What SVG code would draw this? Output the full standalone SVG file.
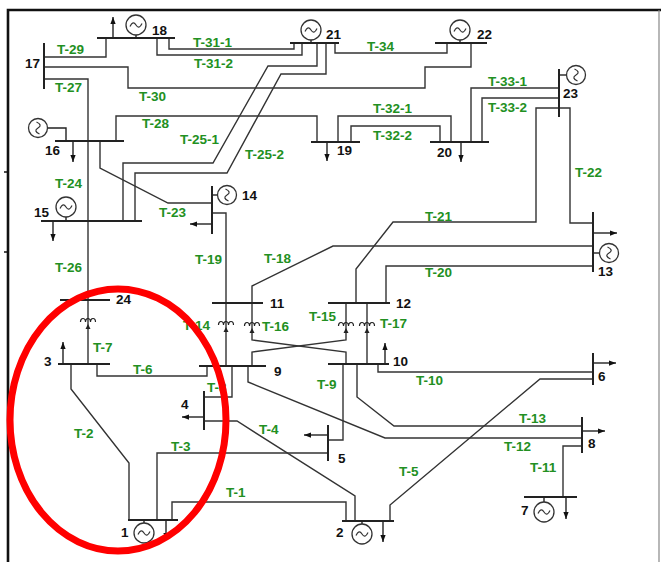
<svg xmlns="http://www.w3.org/2000/svg" width="661" height="562" viewBox="0 0 661 562">
<style>
.ln{fill:none;stroke:#333;stroke-width:1.4;stroke-linejoin:miter}
.bus{fill:none;stroke:#222;stroke-width:2}
.ld{fill:none;stroke:#222;stroke-width:1.4}
.t{font-family:"Liberation Sans",Arial,sans-serif;font-weight:bold;font-size:13.5px;fill:#229022}
.b{font-family:"Liberation Sans",Arial,sans-serif;font-weight:bold;font-size:13.5px;fill:#111}
.gc{fill:#fff;stroke:#333;stroke-width:1.3}
.gw{fill:none;stroke:#333;stroke-width:1.2}
.xc{fill:none;stroke:#222;stroke-width:1.2}
</style>
<defs>
<marker id="ah" viewBox="0 0 8 6" refX="8" refY="3" markerWidth="7" markerHeight="5.5" markerUnits="userSpaceOnUse" orient="auto">
<path d="M0,0 L8,3 L0,6 Z" fill="#111"/>
</marker>
<g id="gen"><circle r="10" class="gc"/><path class="gw" d="M-6,1.5 Q-3,-5 0,0 T6,-1.5"/></g>
<g id="genv"><circle r="9.5" class="gc"/><path class="gw" d="M-1.5,-6 Q5,-3 0,0 T1.5,6"/></g>
<g id="xf"><path class="xc" d="M-7.5,2 a2.5,3.5 0 0 1 5,0 a2.5,3.5 0 0 1 5,0 a2.5,3.5 0 0 1 5,0"/><path d="M0,4 L2.5,9 L-2.5,9 Z" fill="#222"/></g>
</defs>
<rect width="661" height="562" fill="#fff"/>
<g id="frame">
<path d="M8,562 V10 H661" fill="none" stroke="#111" stroke-width="2.6"/>
<path d="M659,10 V562" fill="none" stroke="#888" stroke-width="1.2"/>
<path d="M4,172 H8 M4,252 H8" stroke="#111" stroke-width="1.5"/>
</g>
<g id="connectors">
<path class="ln" d="M106,38 V57 H44"/>
<path class="ln" d="M169,38 V49 H294 V43"/>
<path class="ln" d="M157,38 V55 H302 V43"/>
<path class="ln" d="M44,67 H128 V88 H425 V67 H471 V43"/>
<path class="ln" d="M44,79 H88 V364"/>
<path class="ln" d="M116,141 V116 H317 V142"/>
<path class="ln" d="M338,142 V116 H451 V142"/>
<path class="ln" d="M351,142 V126 H440 V142"/>
<path class="ln" d="M471,142 V88 H559"/>
<path class="ln" d="M482,142 V98 H559"/>
<path class="ln" d="M335,43 V53 H447 V43"/>
<path class="ln" d="M317,43 V66 H268 L213,163 H123 V221"/>
<path class="ln" d="M326,43 V74 H281 L227,173 H135 V221"/>
<path class="ln" d="M100,141 V168 L168,203 H212"/>
<path class="ln" d="M212,213 H226 V366"/>
<path class="ln" d="M593,246 H333 L252,286 V303"/>
<path class="ln" d="M252,303 V340 L346,352 V364"/>
<path class="ln" d="M346,303 V340 L252,352 V366"/>
<path class="ln" d="M559,108 H536 V222 H393 L356,269 V303"/>
<path class="ln" d="M559,108 H570 V223 H593"/>
<path class="ln" d="M593,266 H386 V303"/>
<path class="ln" d="M367,303 V364"/>
<path class="ln" d="M343,364 V440 H328"/>
<path class="ln" d="M378,364 V372 H593"/>
<path class="ln" d="M357,364 V397 L394,426 H582"/>
<path class="ln" d="M248,366 V382 L385,438 H582"/>
<path class="ln" d="M582,446 H563 V497"/>
<path class="ln" d="M97,364 V376 H207 V366"/>
<path class="ln" d="M232,366 V397 H204"/>
<path class="ln" d="M204,421 H237 L355,496 V521"/>
<path class="ln" d="M157,520 V453 H328"/>
<path class="ln" d="M71,364 V389 L129,463 V520"/>
<path class="ln" d="M172,520 V502 H346 V521"/>
<path class="ln" d="M390,521 V505 L540,379 H593"/>
<use href="#xf" x="88" y="320"/>
<use href="#xf" x="226" y="323"/>
<use href="#xf" x="252" y="324"/>
<use href="#xf" x="346" y="324"/>
<use href="#xf" x="367" y="324"/>
<g id="line-labels">
<text class="t" x="57" y="54">T-29</text>
<text class="t" x="55" y="92">T-27</text>
<text class="t" x="139" y="101">T-30</text>
<text class="t" x="193" y="47">T-31-1</text>
<text class="t" x="194" y="68">T-31-2</text>
<text class="t" x="367" y="51">T-34</text>
<text class="t" x="488" y="86">T-33-1</text>
<text class="t" x="488" y="112">T-33-2</text>
<text class="t" x="373" y="113">T-32-1</text>
<text class="t" x="373" y="140">T-32-2</text>
<text class="t" x="142" y="128">T-28</text>
<text class="t" x="180" y="144">T-25-1</text>
<text class="t" x="245" y="159">T-25-2</text>
<text class="t" x="575" y="177">T-22</text>
<text class="t" x="55" y="188">T-24</text>
<text class="t" x="159" y="217">T-23</text>
<text class="t" x="425" y="221">T-21</text>
<text class="t" x="195" y="264">T-19</text>
<text class="t" x="264" y="263">T-18</text>
<text class="t" x="55" y="272">T-26</text>
<text class="t" x="425" y="277">T-20</text>
<text class="t" x="309" y="321">T-15</text>
<text class="t" x="183" y="330">T-14</text>
<text class="t" x="262" y="331">T-16</text>
<text class="t" x="380" y="328">T-17</text>
<text class="t" x="93" y="352">T-7</text>
<text class="t" x="133" y="374">T-6</text>
<text class="t" x="207" y="392">T-8</text>
<text class="t" x="317" y="389">T-9</text>
<text class="t" x="416" y="385">T-10</text>
<text class="t" x="519" y="423">T-13</text>
<text class="t" x="504" y="451">T-12</text>
<text class="t" x="259" y="434">T-4</text>
<text class="t" x="74" y="438">T-2</text>
<text class="t" x="171" y="451">T-3</text>
<text class="t" x="530" y="472">T-11</text>
<text class="t" x="399" y="476">T-5</text>
<text class="t" x="226" y="497">T-1</text>
</g>
</g>
<g id="bus18"><path class="bus" d="M97,38 H175"/><path class="ld" d="M113,38 V17" marker-end="url(#ah)"/><path class="ld" d="M136,35 V38"/><use href="#gen" x="136" y="25"/><text class="b" x="152" y="35">18</text></g>
<g id="bus17"><path class="bus" d="M44,43 V89"/><text class="b" x="25" y="68">17</text></g>
<g id="bus21"><path class="bus" d="M290,43 H339"/><path class="ld" d="M311,40 V43"/><use href="#gen" x="311" y="30"/><text class="b" x="326" y="39">21</text></g>
<g id="bus22"><path class="bus" d="M435,43 H487"/><path class="ld" d="M460,40 V43"/><use href="#gen" x="460" y="30"/><text class="b" x="477" y="39">22</text></g>
<g id="bus16"><path class="bus" d="M55,141 H124"/><path class="ld" d="M48,128 H66 V141"/><use href="#genv" x="38" y="128"/><path class="ld" d="M73,141 V162" marker-end="url(#ah)"/><text class="b" x="45" y="155">16</text></g>
<g id="bus19"><path class="bus" d="M311,142 H360"/><path class="ld" d="M327,142 V161" marker-end="url(#ah)"/><text class="b" x="337" y="155">19</text></g>
<g id="bus20"><path class="bus" d="M430,142 H489"/><path class="ld" d="M461,142 V162" marker-end="url(#ah)"/><text class="b" x="437" y="157">20</text></g>
<g id="bus23"><path class="bus" d="M559,69 V117"/><path class="ld" d="M559,75 H567"/><use href="#genv" x="576" y="75"/><text class="b" x="563" y="98">23</text></g>
<g id="bus15"><path class="bus" d="M41,221 H142"/><path class="ld" d="M66,217 V221"/><use href="#gen" x="66" y="207"/><path class="ld" d="M53,221 V241" marker-end="url(#ah)"/><text class="b" x="34" y="217">15</text></g>
<g id="bus14"><path class="bus" d="M212,186 V234"/><path class="ld" d="M212,195 H218"/><use href="#genv" x="227" y="195"/><path class="ld" d="M212,224 H190" marker-end="url(#ah)"/><text class="b" x="242" y="200">14</text></g>
<g id="bus13"><path class="bus" d="M593,212 V272"/><path class="ld" d="M593,233 H617" marker-end="url(#ah)"/><path class="ld" d="M593,253 H600"/><use href="#genv" x="609" y="253"/><text class="b" x="598" y="276">13</text></g>
<g id="bus11"><path class="bus" d="M212,303 H263"/><text class="b" x="270" y="308">11</text></g>
<g id="bus12"><path class="bus" d="M328,303 H390"/><text class="b" x="396" y="308">12</text></g>
<g id="bus24"><path class="bus" d="M60,300 H110"/><text class="b" x="116" y="304">24</text></g>
<g id="bus3"><path class="bus" d="M58,364 H110"/><path class="ld" d="M63,364 V342" marker-end="url(#ah)"/><text class="b" x="44" y="366">3</text></g>
<g id="bus9"><path class="bus" d="M199,366 H266"/><text class="b" x="274" y="376">9</text></g>
<g id="bus10"><path class="bus" d="M328,364 H389"/><path class="ld" d="M385,364 V343" marker-end="url(#ah)"/><text class="b" x="393" y="366">10</text></g>
<g id="bus6"><path class="bus" d="M593,353 V385"/><path class="ld" d="M593,363 H616" marker-end="url(#ah)"/><text class="b" x="598" y="381">6</text></g>
<g id="bus4"><path class="bus" d="M204,391 V430"/><path class="ld" d="M204,417 H182" marker-end="url(#ah)"/><text class="b" x="181" y="409">4</text></g>
<g id="bus5"><path class="bus" d="M328,425 V461"/><path class="ld" d="M328,435 H304" marker-end="url(#ah)"/><text class="b" x="338" y="463">5</text></g>
<g id="bus8"><path class="bus" d="M582,417 V453"/><path class="ld" d="M582,431 H605" marker-end="url(#ah)"/><text class="b" x="588" y="448">8</text></g>
<g id="bus7"><path class="bus" d="M524,497 H577"/><path class="ld" d="M544,497 V502"/><use href="#gen" x="544" y="512"/><path class="ld" d="M566,497 V519" marker-end="url(#ah)"/><text class="b" x="521" y="515">7</text></g>
<g id="bus1"><path class="bus" d="M128,520 H178"/><path class="ld" d="M144,520 V523"/><use href="#gen" x="144" y="533"/><path class="ld" d="M166,520 V540" marker-end="url(#ah)"/><text class="b" x="121" y="537">1</text></g>
<g id="bus2"><path class="bus" d="M342,521 H394"/><path class="ld" d="M362,521 V524"/><use href="#gen" x="362" y="534"/><path class="ld" d="M383,521 V542" marker-end="url(#ah)"/><text class="b" x="336" y="537">2</text></g>
<g id="highlight"><ellipse cx="118" cy="420" rx="108" ry="131" fill="none" stroke="#f00" stroke-width="7"/></g>
</svg>
